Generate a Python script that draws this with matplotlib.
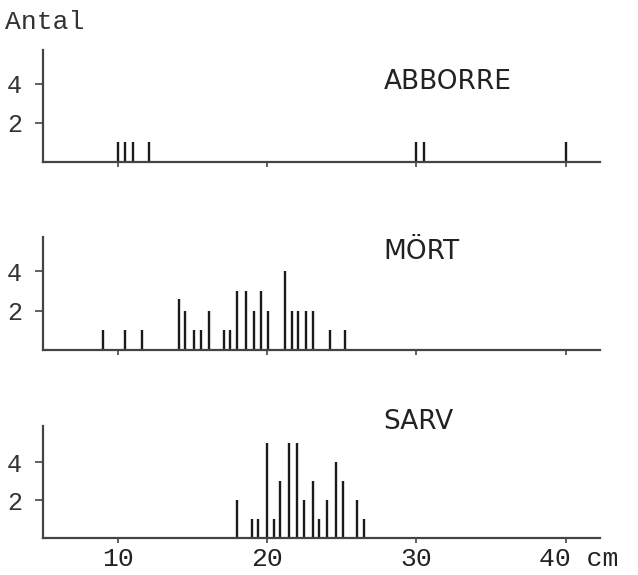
import matplotlib
matplotlib.use("Agg")
import matplotlib.pyplot as plt
from matplotlib.transforms import ScaledTranslation

# lengths (cm) and counts
abborre_cm = [10.0, 10.5, 11.0, 12.1, 30.0, 30.5, 40.0]
abborre_n = [1, 1, 1, 1, 1, 1, 1]

mort_cm = [9.0, 10.5, 11.6, 14.1, 14.5, 15.1, 15.6, 16.1, 17.1, 17.5, 18.0,
           18.6, 19.1, 19.6, 20.1, 21.2, 21.7, 22.1, 22.6, 23.1, 24.2, 25.2]
mort_n = [1, 1, 1, 2.6, 2, 1, 1, 2, 1, 1, 3, 3, 2, 3, 2, 4, 2, 2, 2, 2, 1, 1]

sarv_cm = [18.0, 19.0, 19.4, 20.0, 20.5, 20.9, 21.5, 22.0, 22.5, 23.1,
           23.5, 24.0, 24.6, 25.1, 26.0, 26.5]
sarv_n = [2, 1, 1, 5, 1, 3, 5, 5, 2, 3, 1, 2, 4, 3, 2, 1]

species = ["ABBORRE", "MÖRT", "SARV"]
x_ticks = [10, 20, 30, 40]
x_labels = ["10", "20", "30", "40 cm"]
y_ticks = [2, 4]

mono = "Liberation Mono"
ink = "#1a1a1a"

fig = plt.figure(figsize=(6.38, 5.75), dpi=100)

# [left, bottom, width, height], y-top, label y
panels = [
    ([0.0674, 0.7188, 0.873, 0.1948], 5.75, 4.1),
    ([0.0674, 0.3913, 0.873, 0.1965], 5.75, 5.0),
    ([0.0674, 0.0643, 0.873, 0.1948], 5.9, 6.1),
]
data = [(abborre_cm, abborre_n), (mort_cm, mort_n), (sarv_cm, sarv_n)]

axes = []
for (rect, ytop, label_y), (xs, ns), name in zip(panels, data, species):
    ax = fig.add_axes(rect)
    ax.vlines(xs, 0, ns, colors=ink, linewidth=1.7)
    ax.set_xlim(5, 42.3)
    ax.set_ylim(0, ytop)
    for s in ["top", "right"]:
        ax.spines[s].set_visible(False)
    for s in ["left", "bottom"]:
        ax.spines[s].set_linewidth(1.6)
        ax.spines[s].set_color("#444444")
    ax.set_xticks(x_ticks)
    ax.set_yticks(y_ticks)
    ax.tick_params(axis="x", direction="out", length=3.5, width=1.2,
                   color="#444444", pad=3)
    ax.tick_params(axis="y", direction="out", length=6, width=1.2,
                   color="#444444", pad=9)
    for t in ax.get_yticklabels():
        t.set_fontfamily(mono)
        t.set_fontsize(18)
        t.set_color("#333333")
    ax.set_xticklabels([])
    ax.text(27.8, label_y, name, ha="left", va="center", fontsize=19,
            family="DejaVu Sans", color="#222222")
    axes.append(ax)

bottom = axes[-1]
bottom.set_xticklabels(x_labels, fontfamily=mono, fontsize=19,
                       color="#222222")
last = bottom.get_xticklabels()[-1]
last.set_ha("left")
last.set_transform(last.get_transform() +
                   ScaledTranslation(-0.27, 0, fig.dpi_scale_trans))

fig.text(0.008, 0.962, "Antal", ha="left", va="center", fontfamily=mono,
         fontsize=19, color="#333333")

fig.savefig("out.png", dpi=100)
